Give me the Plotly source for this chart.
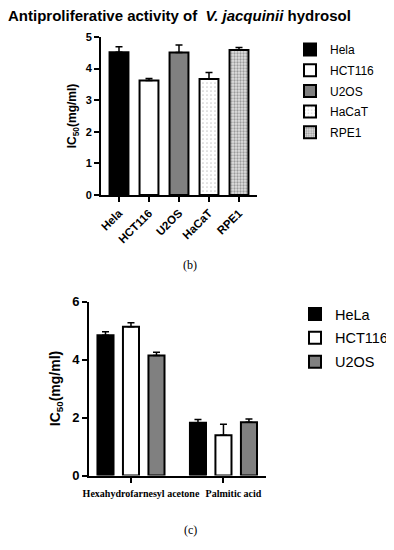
import plotly.graph_objects as go

# ---- data (b) ----
cells_b = ["Hela", "HCT116", "U2OS", "HaCaT", "RPE1"]
ic50_b = [4.52, 3.62, 4.51, 3.67, 4.59]
err_b = [0.17, 0.07, 0.24, 0.21, 0.08]

# ---- data (c) ----
compounds = ["Hexahydrofarnesyl acetone", "Palmitic acid"]
cells_c = ["HeLa", "HCT116", "U2OS"]
hela_c = [4.84, 1.82]
hct116_c = [5.13, 1.39]
u2os_c = [4.14, 1.84]
hela_err = [0.12, 0.11]
hct116_err = [0.14, 0.38]
u2os_err = [0.11, 0.11]

SANS = "Arial, Liberation Sans, sans-serif"
SERIF = "Times New Roman, Liberation Serif, serif"

# the page body adds an 8px margin; the figure is sized to fit the window
W, H, OFF = 386, 542, 8


def X(px):
    return (px - OFF) / W


def Y(py):
    return 1 - (py - OFF) / H


styles_b = [
    dict(color="black", pattern=dict(shape="")),
    dict(color="white", pattern=dict(shape="")),
    dict(color="#808080", pattern=dict(shape="")),
    dict(color="white", pattern=dict(shape=".", fgcolor="#9a9a9a", bgcolor="white", size=4, solidity=0.15)),
    dict(color="#d0d0d0", pattern=dict(shape=".", fgcolor="#555555", bgcolor="#e0e0e0", size=3, solidity=0.45)),
]

fig = go.Figure()

for i, cell in enumerate(cells_b):
    st = styles_b[i]
    fig.add_trace(go.Bar(
        x=[cell], y=[ic50_b[i]], name=cell, width=0.63,
        offsetgroup="b", legendgroup=cell, legend="legend",
        marker=dict(color=st["color"], pattern=st["pattern"],
                    line=dict(color="black", width=2)),
        error_y=dict(type="data", array=[err_b[i]], arrayminus=[0], symmetric=False,
                     color="black", thickness=1.5, width=3.5),
        xaxis="x", yaxis="y",
    ))

colors_c = ["black", "white", "#808080"]
vals_c = [hela_c, hct116_c, u2os_c]
errs_c = [hela_err, hct116_err, u2os_err]
for j, cell in enumerate(cells_c):
    fig.add_trace(go.Bar(
        x=compounds, y=vals_c[j], name=cell, offsetgroup="c%d" % j,
        legendgroup="c" + cell, legend="legend2",
        marker=dict(color=colors_c[j], line=dict(color="black", width=2)),
        error_y=dict(type="data", array=errs_c[j], arrayminus=[0, 0], symmetric=False,
                     color="black", thickness=1.5, width=3.5),
        xaxis="x2", yaxis="y2",
    ))

axis_common = dict(showline=True, linecolor="black", linewidth=2, ticks="outside",
                   tickcolor="black", tickwidth=2, ticklen=5, showgrid=False,
                   zeroline=False, automargin=False)

fig.update_layout(
    width=W, height=H,
    margin=dict(l=0, r=0, t=0, b=0, autoexpand=False),
    paper_bgcolor="white", plot_bgcolor="white",
    barmode="group", bargap=0.173, bargroupgap=0.37,
    font=dict(family=SANS, color="black"),
    title=dict(text="Antiproliferative activity of  <i>V. jacquinii</i> hydrosol",
               x=0.0, xanchor="left", y=1 - 2 / H, yanchor="top",
               pad=dict(t=0, b=0, l=0, r=0),
               font=dict(family=SANS, size=15, weight="bold", color="black")),
    xaxis=dict(domain=[X(101), X(257)], anchor="y", type="category",
               range=[-0.6, 4.6], tickangle=-45,
               tickfont=dict(family=SANS, size=11.5, weight="bold"), **axis_common),
    yaxis=dict(domain=[Y(195), Y(37)], anchor="x", range=[0, 5],
               tickvals=[0, 1, 2, 3, 4, 5],
               tickfont=dict(family=SANS, size=11, weight="bold"),
               title=dict(text="IC<sub>50</sub>(mg/ml)", standoff=6,
                          font=dict(family=SANS, size=12, weight="bold")),
               **axis_common),
    xaxis2=dict(domain=[X(89), X(266)], anchor="y2", type="category",
                range=[-0.454, 1.46], tickangle=0, ticklabelshift=10, ticklabelstandoff=2,
                tickfont=dict(family=SERIF, size=10, weight="bold"), **axis_common),
    yaxis2=dict(domain=[Y(475.5), Y(301.5)], anchor="x2", range=[0, 6],
                tickvals=[0, 2, 4, 6],
                tickfont=dict(family=SANS, size=13, weight="bold"),
                title=dict(text="IC<sub>50</sub>(mg/ml)", standoff=8,
                           font=dict(family=SANS, size=14, weight="bold")),
                **axis_common),
    legend=dict(x=X(290), xanchor="left", y=Y(35), yanchor="top",
                font=dict(family=SANS, size=12), traceorder="grouped",
                tracegroupgap=1.7, bgcolor="rgba(0,0,0,0)"),
    legend2=dict(x=X(295), xanchor="left", y=Y(298), yanchor="top",
                 font=dict(family=SANS, size=14.5), traceorder="grouped",
                 tracegroupgap=2, bgcolor="rgba(0,0,0,0)"),
    annotations=[
        dict(text="(b)", x=X(190), y=Y(265), xref="paper", yref="paper",
             showarrow=False, font=dict(family=SERIF, size=12)),
        dict(text="(c)", x=X(190), y=Y(539), xref="paper", yref="paper",
             showarrow=False, font=dict(family=SERIF, size=12)),
    ],
)

fig.write_html("out.html")
